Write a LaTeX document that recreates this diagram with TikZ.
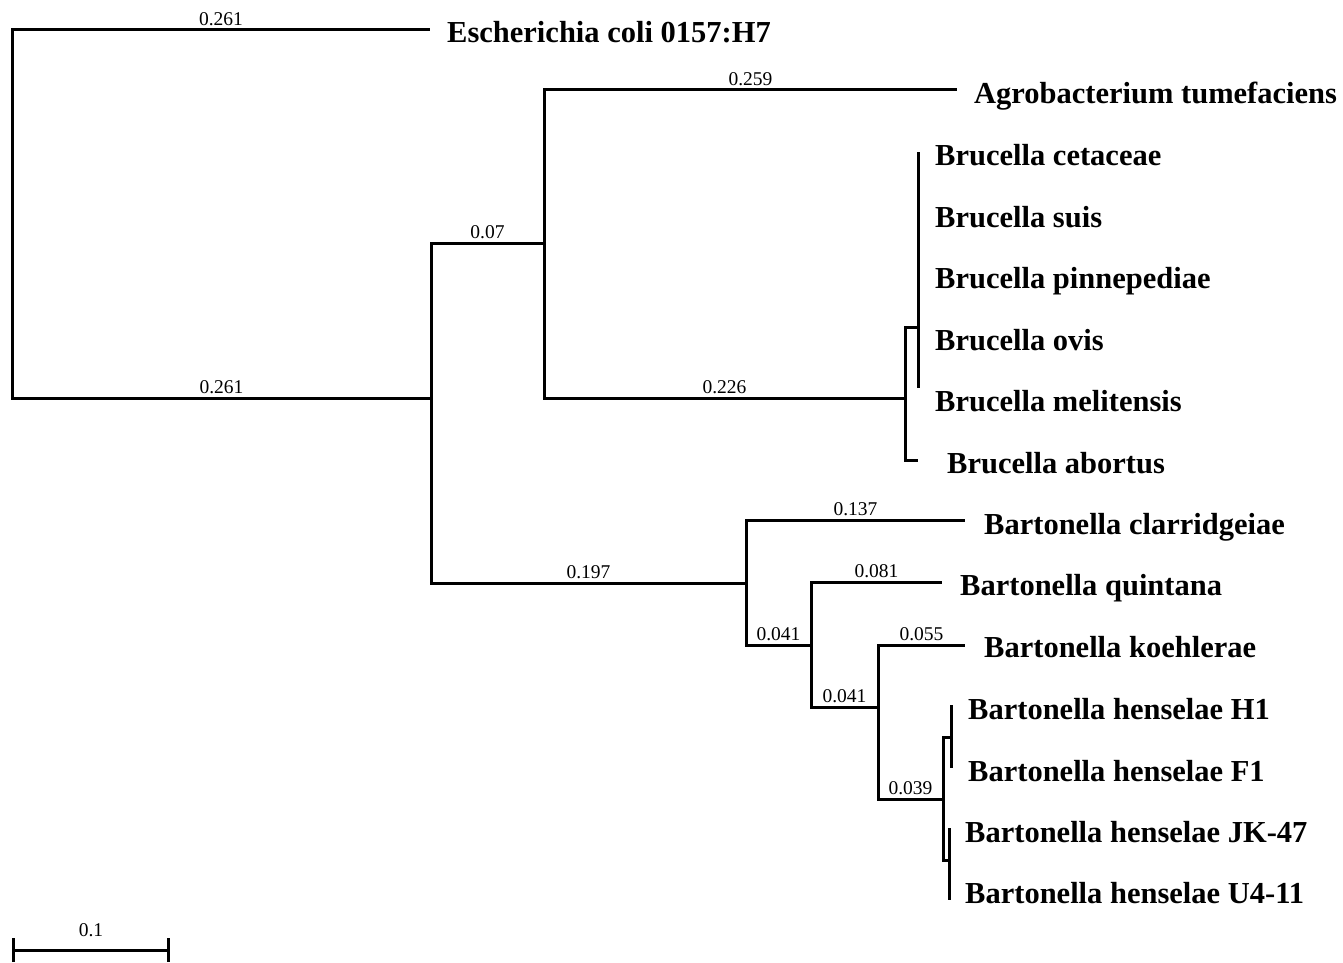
\documentclass[tikz,border=0pt]{standalone}
\usepackage{fontspec}
\setmainfont{Liberation Serif}
\usetikzlibrary{arrows.meta}

\begin{document}
\begin{tikzpicture}
[x=1pt,y=-1pt,
  branch/.style={line width=3pt},%
  taxon/.style={anchor=base west,inner sep=0pt,font=\fontsize{30.5}{36}\selectfont\bfseries},%
  blen/.style={above=2.5pt,inner sep=0pt,font=\fontsize{19.5}{22}\selectfont},%
  scalebar/.style={line width=3pt,{Bar[width=24pt]}-{Bar[width=24pt]}}]
\useasboundingbox (0,0) rectangle (1343,963);
%% internal nodes
\foreach \nodename/\x/\y in {root/12/214, n1/431/398, n2/544/243, n3/746/583,
  bru/905/398, bru2/918/327, n4/811/645, n5/878/707,
  bhen/943/799, bhen1/951/737, bhen2/949/860}
{
  \coordinate (\nodename) at (\x,\y);
}
%% branch tips
\foreach \nodename/\x/\y in {ecoliT/430/30, agroT/957/90,
  bcetT/918/152, bsuisT/918/211, bpinT/918/270, bovisT/918/329, bmelT/918/388, baboT/918/460,
  bclaT/965/520, bquiT/942/582, bkoeT/965/645,
  bhH1T/951/705, bhF1T/951/768, bhJKT/949/828, bhU4T/949/900}
{
  \coordinate (\nodename) at (\x,\y);
}
%% taxa
\foreach \nodename/\x/\y/\name in {ecoli/447/43/Escherichia coli 0157:H7,
  agro/974/103/Agrobacterium tumefaciens,
  bcet/935/165/Brucella cetaceae, bsuis/935/227/Brucella suis,
  bpin/935/288/Brucella pinnepediae, bovis/935/350/Brucella ovis,
  bmel/935/411/Brucella melitensis, babo/947/473/Brucella abortus,
  bcla/984/534/Bartonella clarridgeiae, bqui/960/595/Bartonella quintana,
  bkoe/984/657/Bartonella koehlerae,
  bhH1/968/719/Bartonella henselae H1, bhF1/968/781/Bartonella henselae F1,
  bhJK/965/842/Bartonella henselae JK-47, bhU4/965/903/Bartonella henselae U4-11}
{
  \node (\nodename) at (\x,\y) [taxon] {\name};
}
%% branches
\foreach \startnode/\endnode/\len in {root/ecoliT/0.261, root/n1/0.261,
  n1/n2/0.07, n1/n3/0.197, n2/agroT/0.259, n2/bru/0.226,
  bru/bru2/, bru/baboT/, bru2/bcetT/, bru2/bsuisT/, bru2/bpinT/, bru2/bovisT/, bru2/bmelT/,
  n3/bclaT/0.137, n3/n4/0.041, n4/bquiT/0.081, n4/n5/0.041,
  n5/bkoeT/0.055, n5/bhen/0.039,
  bhen/bhen1/, bhen/bhen2/, bhen1/bhH1T/, bhen1/bhF1T/, bhen2/bhJKT/, bhen2/bhU4T/}
{
  \draw[branch] (\startnode) |- (\endnode) node[blen,pos=0.75] {\len};
}
%% scale bar
\coordinate (sbL) at (12,950);
\coordinate (sbR) at (170,950);
\draw[scalebar] (sbL) -- (sbR) node[midway,above=12pt,inner sep=0pt,font=\fontsize{19.5}{22}\selectfont] {0.1};
\end{tikzpicture}
\end{document}
